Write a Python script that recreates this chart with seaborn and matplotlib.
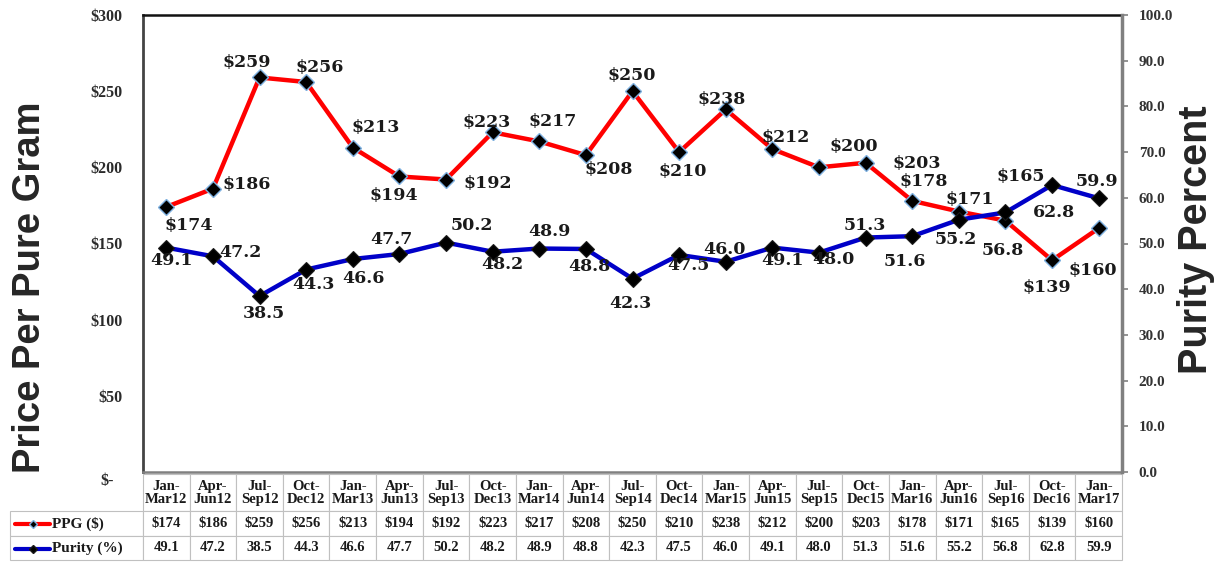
import numpy as np
import pandas as pd
import matplotlib
matplotlib.use("Agg")
import matplotlib.pyplot as plt
import matplotlib.transforms as mtransforms
import seaborn as sns
from matplotlib.lines import Line2D

# ---------------- data ----------------
periods = ["Jan-\nMar12", "Apr-\nJun12", "Jul-\nSep12", "Oct-\nDec12",
           "Jan-\nMar13", "Apr-\nJun13", "Jul-\nSep13", "Oct-\nDec13",
           "Jan-\nMar14", "Apr-\nJun14", "Jul-\nSep14", "Oct-\nDec14",
           "Jan-\nMar15", "Apr-\nJun15", "Jul-\nSep15", "Oct-\nDec15",
           "Jan-\nMar16", "Apr-\nJun16", "Jul-\nSep16", "Oct-\nDec16",
           "Jan-\nMar17"]
ppg = [174, 186, 259, 256, 213, 194, 192, 223, 217, 208, 250,
       210, 238, 212, 200, 203, 178, 171, 165, 139, 160]
purity = [49.1, 47.2, 38.5, 44.3, 46.6, 47.7, 50.2, 48.2, 48.9, 48.8, 42.3,
          47.5, 46.0, 49.1, 48.0, 51.3, 51.6, 55.2, 56.8, 62.8, 59.9]
left_ticks = [0, 50, 100, 150, 200, 250, 300]
left_tick_labels = ["$-", "$50", "$100", "$150", "$200", "$250", "$300"]
right_ticks = [0, 10, 20, 30, 40, 50, 60, 70, 80, 90, 100]
series_names = ["PPG ($)", "Purity (%)"]

# label offsets in pixels (x right, y up) — styling only
ppg_off = [(22, -19), (34, 4), (-13, 15), (14, 15), (23, 20), (-6, -19), (42, -4),
           (-6, 10), (13, 20), (23, -14), (-1, 16), (4, -19), (-4, 10), (13, 12),
           (35, 21), (51, -1), (11, 19), (11, 12), (15, 44), (-5, -27), (-6, -42)]
pur_off = [(5, -13), (27, 4), (4, -17), (7, -15), (11, -19), (-8, 15), (26, 17),
           (10, -13), (10, 17), (3, -18), (-2, -25), (9, -11), (-1, 12), (10, -13),
           (14, -7), (-1, 12), (-7, -25), (-3, -20), (-3, -38), (2, -27), (-2, 17)]

sns.set_style("white")
W, H = 1225, 562
fig = plt.figure(figsize=(W / 100, H / 100), dpi=100)
ax_l, ax_r, ax_t, ax_b = 143, 1122, 15, 472
ax = fig.add_axes([ax_l / W, 1 - ax_b / H, (ax_r - ax_l) / W, (ax_b - ax_t) / H])
ax2 = ax.twinx()

idx = np.arange(len(periods))
df = pd.DataFrame({"idx": idx, "ppg": ppg, "purity": purity})

sns.lineplot(data=df, x="idx", y="ppg", ax=ax, color="#FF0000", lw=3.2,
             marker="D", markersize=8, markerfacecolor="black",
             markeredgecolor="#7EB0E0", markeredgewidth=1.0, zorder=3)
sns.lineplot(data=df, x="idx", y="purity", ax=ax2, color="#0000C8", lw=3.2,
             marker="D", markersize=8, markerfacecolor="black",
             markeredgecolor="#1a1a1a", markeredgewidth=0.8, zorder=3)

ax.set_xlim(-0.5, len(periods) - 0.5)
ax.set_ylim(0, 300)
ax2.set_ylim(0, 100)
ax.set_xticks([])
ax.set_xlabel("")
ax.set_ylabel("")
ax2.set_ylabel("")

serif_b = dict(family="Liberation Serif", weight="bold")
ax.set_yticks(left_ticks)
ax.set_yticklabels(left_tick_labels, fontsize=11.5, **serif_b)
ax.tick_params(axis="y", length=0, pad=15, labelcolor="#2a2a2a")
# the "$-" label sits lower and further left in the original
zero_lab = ax.get_yticklabels()[0]
zero_lab.set_transform(zero_lab.get_transform() +
                       mtransforms.ScaledTranslation(-8 / 100, -7 / 100,
                                                     fig.dpi_scale_trans))
ax2.set_yticks(right_ticks)
ax2.set_yticklabels([f"{t:.1f}" for t in right_ticks], fontsize=11, **serif_b)
ax2.tick_params(axis="y", length=4, width=1.2, color="#808080", pad=8,
                labelcolor="#333333", direction="out")

for a in (ax, ax2):
    for s in a.spines.values():
        s.set_visible(False)
ax.spines["left"].set_visible(True)
ax.spines["left"].set_color("#444444")
ax.spines["left"].set_linewidth(2.0)
ax.spines["top"].set_visible(True)
ax.spines["top"].set_color("#111111")
ax.spines["top"].set_linewidth(1.8)
ax.spines["bottom"].set_visible(True)
ax.spines["bottom"].set_color("#808080")
ax.spines["bottom"].set_linewidth(1.8)
ax2.spines["right"].set_visible(True)
ax2.spines["right"].set_color("#808080")
ax2.spines["right"].set_linewidth(2.5)

lab_font = dict(family="DejaVu Serif", weight="bold", fontsize=12.5)
for i, v in enumerate(ppg):
    ax.annotate(f"${v}", (i, v), xytext=ppg_off[i], textcoords="offset pixels",
                ha="center", va="center", color="#1a1a1a", zorder=5, **lab_font)
for i, v in enumerate(purity):
    ax2.annotate(f"{v:.1f}", (i, v), xytext=pur_off[i], textcoords="offset pixels",
                 ha="center", va="center", color="#1a1a1a", zorder=5, **lab_font)

# axis titles
fig.text(30 / W, 1 - 287 / H, "Price Per Pure Gram", rotation=90, ha="center",
         va="center", fontsize=27.5, family="Liberation Sans", weight="bold")
fig.text(1196 / W, 1 - 240 / H, "Purity Percent", rotation=90, ha="center",
         va="center", fontsize=28.5, family="Liberation Sans", weight="bold")

# ---------------- data table ----------------
ax_w = ax_r - ax_l
ax_h = ax_b - ax_t
t_left, t_top, t_bot = 10, 474, 560
bbox = [(t_left - ax_l) / ax_w, -(t_bot - ax_b) / ax_h,
        (ax_r - t_left) / ax_w, (t_bot - t_top) / ax_h]
cell_text = [[""] + periods,
             [""] + [f"${v}" for v in ppg],
             [""] + [f"{v:.1f}" for v in purity]]
col_w = [133] + [ax_w / len(periods)] * len(periods)
tbl = ax.table(cellText=cell_text, cellLoc="center", colWidths=col_w, bbox=bbox)
tbl.auto_set_font_size(False)
row_h = [37, 24, 24]
for (r, c), cell in tbl.get_celld().items():
    cell.set_height(row_h[r])
    cell.set_edgecolor("#C0C0C0")
    cell.set_linewidth(0.8)
    cell.set_facecolor("white")
    txt = cell.get_text()
    txt.set_fontsize(10.5)
    txt.set_fontfamily("Liberation Serif")
    txt.set_fontweight("bold")
    txt.set_color("#1a1a1a")
    txt.set_linespacing(1.0)
    if r == 0 and c == 0:
        cell.visible_edges = ""

# legend keys in row labels
row_centers = [(512 + 535) / 2, (537 + 560) / 2]
colors = ["#FF0000", "#0000C8"]
edges = ["#7EB0E0", "#1a1a1a"]
for k in range(2):
    yc = 1 - row_centers[k] / H
    fig.add_artist(Line2D([15 / W, 50 / W], [yc, yc], color=colors[k], lw=3,
                          transform=fig.transFigure))
    fig.add_artist(Line2D([33 / W], [yc], marker="D", markersize=4,
                          markerfacecolor="black", markeredgecolor=edges[k],
                          transform=fig.transFigure))
    fig.text(52 / W, yc, series_names[k], ha="left", va="center", fontsize=11,
             color="#1a1a1a", **serif_b)

fig.savefig("out.png", dpi=100)
